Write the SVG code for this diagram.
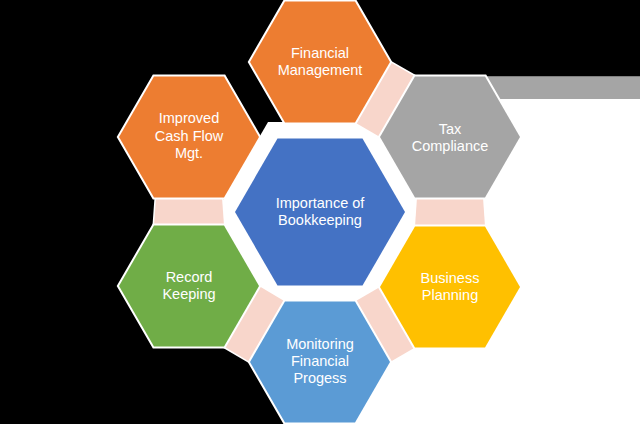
<svg xmlns="http://www.w3.org/2000/svg" width="640" height="424" viewBox="0 0 640 424">
<style>
.hex{stroke:#ffffff;stroke-width:4;paint-order:stroke;stroke-linejoin:miter}
.link{fill:#F8D6CB;stroke:#ffffff;stroke-width:3;paint-order:stroke}
.t{font-family:"Liberation Sans","Open Sans",Arial,sans-serif;font-size:14.5px;fill:#ffffff;text-anchor:middle}
</style>
<rect x="0" y="0" width="640" height="424" fill="#000000"/>
<!-- white backdrop areas -->
<polygon points="390,62 415,76.4 640,76.4 640,424 355,424 390,362 380,287 380,137" fill="#ffffff"/>
<polygon points="216,212 268,122 372,122 424,212 372,302 268,302" fill="#ffffff"/>
<rect x="485" y="77" width="155" height="22" fill="#A5A5A5"/>
<g id="connectors">
<polygon class="link" points="390,62 415,76.4 380,137 355,122.6"/>
<polygon class="link" points="417,197.6 483,197.6 485,226.4 415,226.4"/>
<polygon class="link" points="380,287 415,347.6 390,362 355,301.4"/>
<polygon class="link" points="224,346.6 259,286 285,301.4 250,362"/>
<polygon class="link" points="156,197.6 222,197.6 224,225.4 154,225.4"/>
</g>
<g id="financial-management">
<polygon class="hex" fill="#ED7D31" points="250,62 285,1.4 355,1.4 390,62 355,122.6 285,122.6"/>
<text class="t" x="320" y="58">Financial</text>
<text class="t" x="320" y="75">Management</text>
</g>
<g id="tax-compliance">
<polygon class="hex" fill="#A5A5A5" points="380,137 415,76.4 485,76.4 520,137 485,197.6 415,197.6"/>
<text class="t" x="450" y="134">Tax</text>
<text class="t" x="450" y="151">Compliance</text>
</g>
<g id="business-planning">
<polygon class="hex" fill="#FFC000" points="380,287 415,226.4 485,226.4 520,287 485,347.6 415,347.6"/>
<text class="t" x="450" y="283">Business</text>
<text class="t" x="450" y="300">Planning</text>
</g>
<g id="monitoring">
<polygon class="hex" fill="#5B9BD5" points="250,362 285,301.4 355,301.4 390,362 355,422.6 285,422.6"/>
<text class="t" x="320" y="349">Monitoring</text>
<text class="t" x="320" y="366">Financial</text>
<text class="t" x="320" y="383">Progess</text>
</g>
<g id="record-keeping">
<polygon class="hex" fill="#70AD47" points="119,286 154,225.4 224,225.4 259,286 224,346.6 154,346.6"/>
<text class="t" x="189" y="282">Record</text>
<text class="t" x="189" y="299">Keeping</text>
</g>
<g id="improved-cash-flow">
<polygon class="hex" fill="#ED7D31" points="119,137 154,76.4 224,76.4 259,137 224,197.6 154,197.6"/>
<text class="t" x="189" y="123">Improved</text>
<text class="t" x="189" y="141">Cash Flow</text>
<text class="t" x="189" y="158">Mgt.</text>
</g>
<g id="importance">
<polygon class="hex" fill="#4472C4" points="235,212 277.5,138.4 362.5,138.4 405,212 362.5,285.6 277.5,285.6"/>
<text class="t" x="320" y="208">Importance of</text>
<text class="t" x="320" y="225">Bookkeeping</text>
</g>
</svg>
